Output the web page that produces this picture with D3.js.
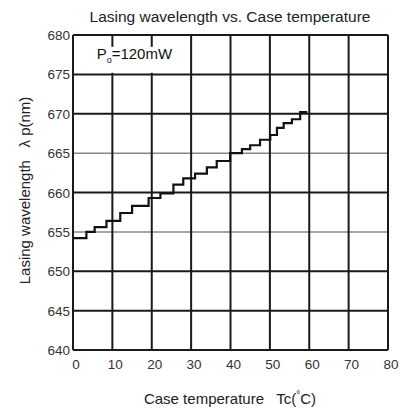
<!DOCTYPE html>
<html><head><meta charset="utf-8">
<script src="https://cdn.jsdelivr.net/npm/d3@7"></script>
<style>body{margin:0;background:#fff}svg{display:block}text{font-family:"Liberation Sans",Arial,sans-serif}</style>
</head><body>
<svg id="c" width="400" height="409"></svg>
<script>
const xTicks = [0,10,20,30,40,50,60,70,80];
const yTicks = [640,645,650,655,660,665,670,675,680];
const stepTemps = [0,3.4,5.5,8.5,12,15,19.2,22.2,25.5,28,31,34,36.5,39.9,42.9,45,47.5,50.1,51.8,53.5,55.6,57.7,59.5];
const stepWaves = [654.2,655.0,655.6,656.4,657.4,658.3,659.3,659.9,661.0,661.8,662.4,663.2,664.0,665.0,665.5,666.0,666.7,667.3,668.2,668.8,669.3,670.2,670.2];
const lightY = [655,665];

const svg = d3.select("#c");
const L=73,R=388,T=35,B=350;
const x = d3.scaleLinear().domain([0,80]).range([L,R]);
const y = d3.scaleLinear().domain([640,680]).range([B,T]);

// grid
svg.append("g").selectAll("line").data(yTicks).join("line")
  .attr("x1",L).attr("x2",R).attr("y1",d=>y(d)).attr("y2",d=>y(d))
  .attr("stroke",d=>lightY.includes(d)?"#888":"#1a1a1a")
  .attr("stroke-width",d=>lightY.includes(d)?1.5:2);
svg.append("g").selectAll("line").data(xTicks).join("line")
  .attr("x1",d=>x(d)).attr("x2",d=>x(d)).attr("y1",T).attr("y2",B)
  .attr("stroke","#1a1a1a").attr("stroke-width",2);

// label box covering grid
svg.append("rect").attr("x",L+1.5).attr("y",y(678.5)).attr("width",x(29.4)-L-1.5).attr("height",y(675.2)-y(678.5)).attr("fill","#fff");
const pl = svg.append("text").attr("x",x(6)).attr("y",y(676.9)).attr("font-size",15).attr("fill","#111");
pl.append("tspan").text("P");
pl.append("tspan").attr("font-size",9).attr("dy",4).text("o");
pl.append("tspan").attr("dy",-4).text("=120mW");

// step line
const pts = stepTemps.map((t,i)=>[t,stepWaves[i]]);
svg.append("path").datum(pts)
  .attr("d", d3.line().x(d=>x(d[0])).y(d=>y(d[1])).curve(d3.curveStepAfter))
  .attr("fill","none").attr("stroke","#111").attr("stroke-width",2.2);

// tick labels
svg.append("g").selectAll("text").data(yTicks).join("text")
  .attr("x",L-3).attr("y",d=>y(d)+5).attr("text-anchor","end").attr("font-size",13.5).attr("fill","#333").text(d=>d);
svg.append("g").selectAll("text").data(xTicks).join("text")
  .attr("x",d=>x(d)+3).attr("y",B+19).attr("text-anchor","middle").attr("font-size",13.5).attr("fill","#333").text(d=>d);

// title
svg.append("text").attr("x",230).attr("y",22).attr("text-anchor","middle").attr("font-size",15.5).attr("fill","#222")
  .text("Lasing wavelength vs. Case temperature");

// x axis title
const xt = svg.append("text").attr("x",230).attr("y",404).attr("text-anchor","middle").attr("font-size",15).attr("fill","#222");
xt.append("tspan").text("Case temperature\u00a0\u00a0 Tc(");
xt.append("tspan").attr("font-size",10).attr("dy",-6).text("°");
xt.append("tspan").attr("dy",6).text("C)");

// y axis title
svg.append("text").attr("transform","translate(30,"+((T+B)/2-2)+") rotate(-90)").attr("text-anchor","middle")
  .attr("font-size",15).attr("fill","#222").text("Lasing wavelength\u00a0\u00a0 λ p(nm)");
</script>
</body></html>
